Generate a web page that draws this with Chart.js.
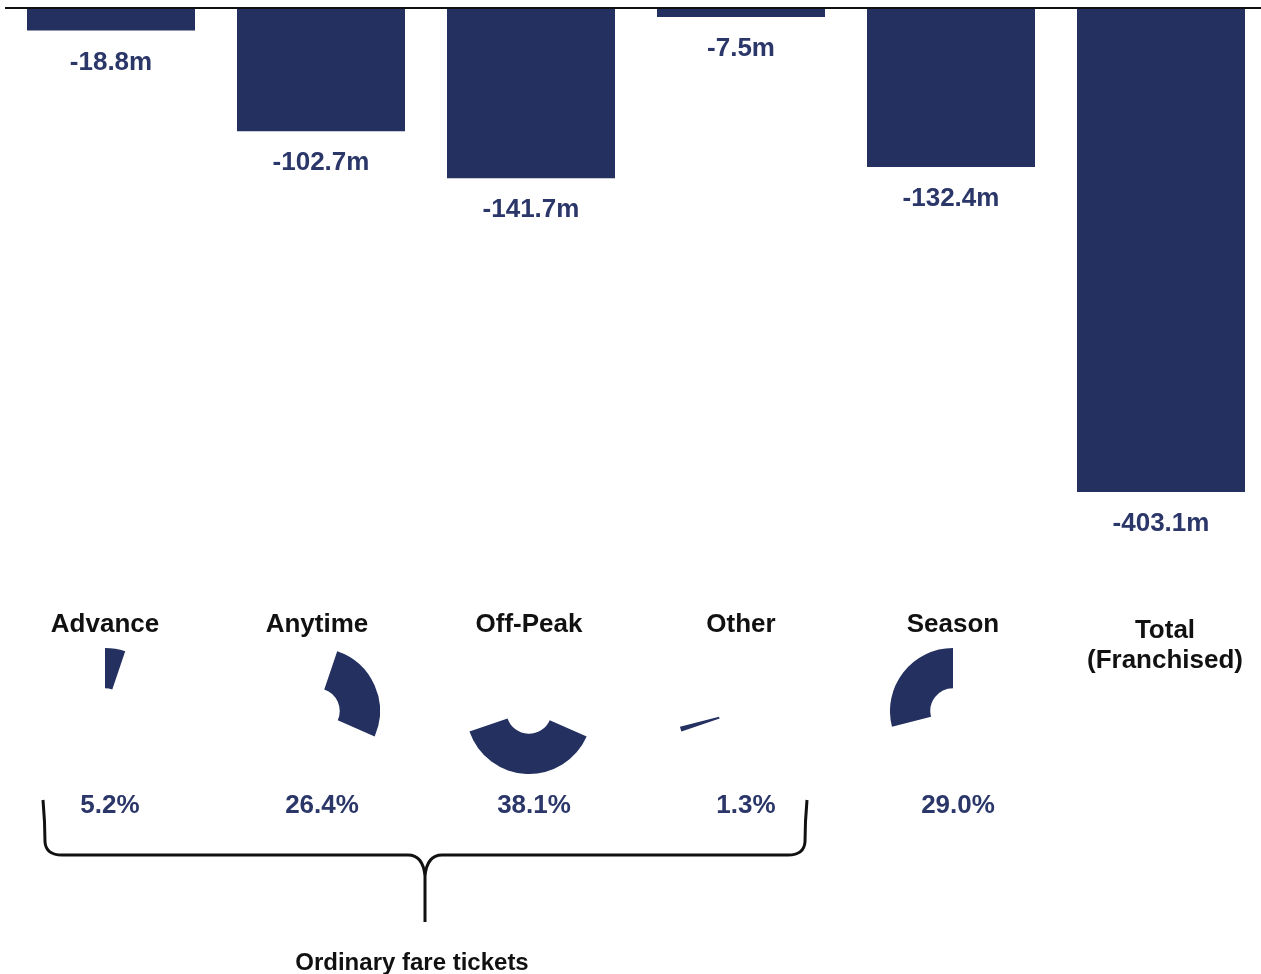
<!DOCTYPE html>
<html>
<head>
<meta charset="utf-8">
<script src="https://cdn.jsdelivr.net/npm/chart.js@4"></script>
<style>
  html, body { margin: 0; padding: 0; background: #fff; overflow: hidden; width: 1261px; height: 974px; }
  #wrap { position: relative; width: 1261px; height: 974px; overflow: hidden; }
  #bars { position: absolute; left: 0; top: 0; }
  .pie { position: absolute; }
  .lbl { position: absolute; transform: translate(-50%, -50%); white-space: nowrap; line-height: 1;
         font-family: "Liberation Sans", Arial, sans-serif; font-weight: bold; }
  .val { color: #2b3669; font-size: 26px; }
  .cat { color: #111; font-size: 26px; text-align: center; }
  .pct { color: #2b3669; font-size: 26px; }
  .grp { color: #111; font-size: 24px; }
  svg { position: absolute; left: 0; top: 0; }
</style>
</head>
<body>
<div id="wrap">
  <canvas id="bars" width="1272" height="974"></canvas>
  <svg width="1261" height="974">
    <path d="M43,800 Q45,822 45,842 Q46,855 62,855 L408,855 Q423,855 425,876 L425,922 M425,876 Q427,855 442,855 L788,855 Q804,855 805,842 Q805,822 807,800"
          fill="none" stroke="#111" stroke-width="3"/>
  </svg>
</div>
<script>
// ---- data ----
const categories = ["Advance", "Anytime", "Off-Peak", "Other", "Season", "Total\n(Franchised)"];
const changeValues = [-18.8, -102.7, -141.7, -7.5, -132.4, -403.1];
const valueLabels = ["-18.8m", "-102.7m", "-141.7m", "-7.5m", "-132.4m", "-403.1m"];
const shareCategories = ["Advance", "Anytime", "Off-Peak", "Other", "Season"];
const shareValues = [5.2, 26.4, 38.1, 1.3, 29.0];
const shareLabels = ["5.2%", "26.4%", "38.1%", "1.3%", "29.0%"];
const groupLabel = "Ordinary fare tickets";

const NAVY = "#24305f";
const wrap = document.getElementById("wrap");

function addLabel(text, x, y, cls) {
  const d = document.createElement("div");
  d.className = "lbl " + cls;
  d.style.left = x + "px";
  d.style.top = y + "px";
  d.innerHTML = text.split("\n").join("<br>");
  if (text.indexOf("\n") >= 0) d.style.lineHeight = "30px";
  wrap.appendChild(d);
}

const zeroLine = {
  id: "zeroLine",
  afterDatasetsDraw(chart) {
    const y = chart.scales.y.getPixelForValue(0);
    const ctx = chart.ctx;
    ctx.save();
    ctx.strokeStyle = "#111";
    ctx.lineWidth = 2;
    ctx.beginPath();
    ctx.moveTo(5, y);
    ctx.lineTo(1262, y);
    ctx.stroke();
    ctx.restore();
  }
};

const barChart = new Chart(document.getElementById("bars"), {
  type: "bar",
  data: {
    labels: categories,
    datasets: [{
      data: changeValues,
      backgroundColor: NAVY,
      borderWidth: 0,
      categoryPercentage: 0.8,
      barPercentage: 1.0
    }]
  },
  options: {
    responsive: false,
    animation: false,
    devicePixelRatio: 1,
    layout: { padding: { left: 6, right: 6, top: 8, bottom: 365.65 } },
    scales: {
      x: { display: false },
      y: { display: false, min: -500, max: 0 }
    },
    plugins: { legend: { display: false }, tooltip: { enabled: false } }
  },
  plugins: [zeroLine]
});

// value labels under each bar, positioned from the bar elements
barChart.getDatasetMeta(0).data.forEach((bar, i) => {
  addLabel(valueLabels[i], bar.x, bar.y + 30, "val");
});

// lower section: category names, share doughnut slices, share labels
const R = 63, CY = 711;
categories.forEach((c, i) => {
  const cx = 105 + 212 * i;
  addLabel(c, cx, c.indexOf("\n") >= 0 ? 644 : 623, "cat");
});

shareCategories.forEach((c, i) => {
  const cx = 105 + 212 * i;
  const cv = document.createElement("canvas");
  cv.className = "pie";
  cv.width = 2 * R; cv.height = 2 * R;
  cv.style.left = (cx - R) + "px";
  cv.style.top = (CY - R) + "px";
  wrap.insertBefore(cv, wrap.querySelector("svg"));
  new Chart(cv, {
    type: "doughnut",
    data: {
      labels: shareCategories,
      datasets: [{
        data: shareValues,
        backgroundColor: shareValues.map((v, j) => j === i ? NAVY : "rgba(0,0,0,0)"),
        borderWidth: 0
      }]
    },
    options: {
      responsive: false,
      animation: false,
      devicePixelRatio: 1,
      cutout: "36%",
      layout: { padding: 0 },
      plugins: { legend: { display: false }, tooltip: { enabled: false } }
    }
  });
  addLabel(shareLabels[i], cx + 5, 804, "pct");
});

addLabel(groupLabel, 412, 962, "grp");
</script>
</body>
</html>
